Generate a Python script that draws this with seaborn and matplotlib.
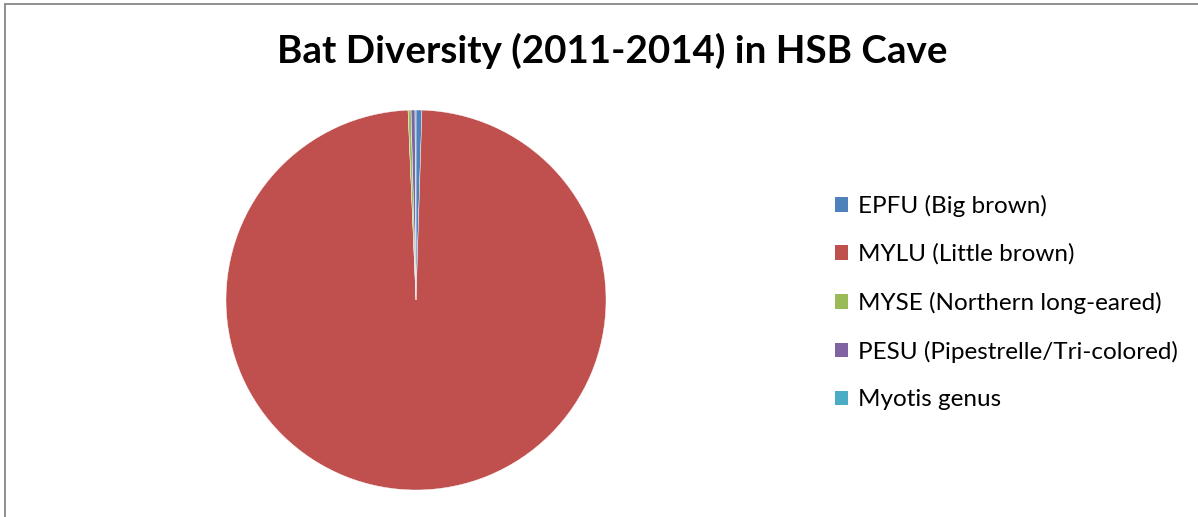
import matplotlib
matplotlib.use("Agg")
import matplotlib.pyplot as plt
from matplotlib.patches import Rectangle, Patch
import seaborn as sns

# Data
species = ["EPFU (Big brown)", "MYLU (Little brown)", "MYSE (Northern long-eared)",
           "PESU (Pipestrelle/Tri-colored)", "Myotis genus"]
counts = [6, 1185, 3, 4, 1]
colors = ["#4F81BD", "#C0504D", "#9BBB59", "#8064A2", "#4BACC6"]
title = "Bat Diversity (2011-2014) in HSB Cave"

sns.set_theme(style="white")
plt.rcParams["font.family"] = ["Lato", "DejaVu Sans"]
plt.rcParams["text.color"] = "black"

W, H = 1198, 517
fig = plt.figure(figsize=(W / 100, H / 100), dpi=100)
fig.patch.set_facecolor("white")

# chart border (top and left visible, cropped on right/bottom)
fig.patches.append(Rectangle((4.5 / W, -0.1), 1.2, (H - 3.5) / H + 0.1,
                             transform=fig.transFigure, fill=False,
                             edgecolor="#868686", linewidth=1.3, zorder=0))

cx, cy, r = 416, 300, 190
ax = fig.add_axes([(cx - r) / W, (H - cy - r) / H, 2 * r / W, 2 * r / H])
wedges, _ = ax.pie(counts, colors=colors, startangle=90, counterclock=False,
                   wedgeprops=dict(edgecolor="white", linewidth=0.3))
ax.set_aspect("equal")
ax.set_xlim(-1, 1)
ax.set_ylim(-1, 1)
ax.axis("off")

fig.text(612 / W, 1 - 51 / H, title, ha="center", va="center",
         fontsize=27.7, fontweight="bold", color="black")

handles = [Patch(facecolor=c, edgecolor="none") for c in colors]
leg = fig.legend(handles, species, loc="upper left",
                 bbox_to_anchor=(825 / W, 1 - 185 / H),
                 frameon=False, fontsize=17.5, handlelength=0.55, handleheight=0.55,
                 handletextpad=0.4, labelspacing=1.1, borderaxespad=0,
                 labelcolor="black")

fig.savefig("out.png", dpi=100, facecolor="white")
